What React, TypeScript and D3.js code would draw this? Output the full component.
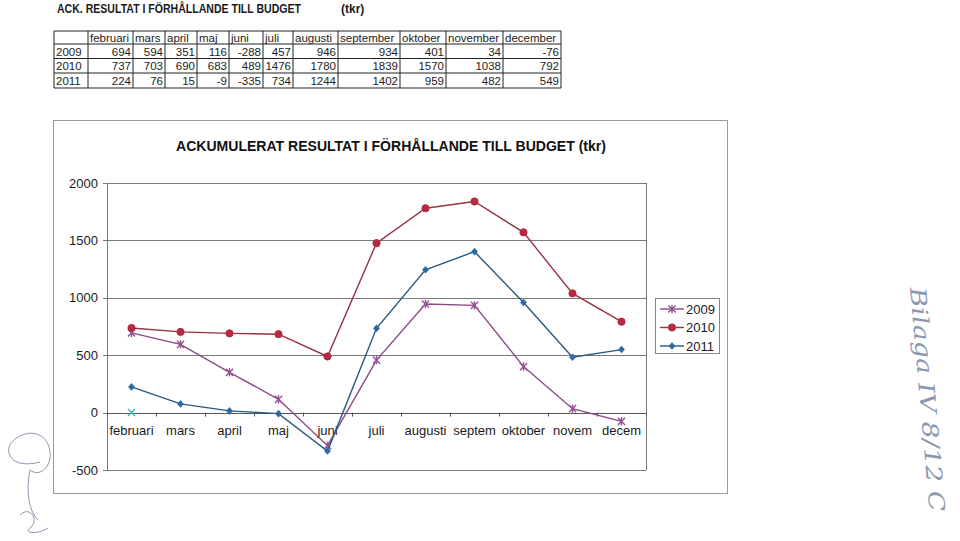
import React from "react";
import * as d3 from "d3";

const tableMonths = ["februari", "mars", "april", "maj", "juni", "juli", "augusti", "september", "oktober", "november", "december"];
const axisLabels = ["februari", "mars", "april", "maj", "juni", "juli", "augusti", "septem", "oktober", "novem", "decem"];
const years = ["2009", "2010", "2011"];
const values2009 = [694, 594, 351, 116, -288, 457, 946, 934, 401, 34, -76];
const values2010 = [737, 703, 690, 683, 489, 1476, 1780, 1839, 1570, 1038, 792];
const values2011 = [224, 76, 15, -9, -335, 734, 1244, 1402, 959, 482, 549];
const strayValues = [0];
const yTicks = [-500, 0, 500, 1000, 1500, 2000];

const colW = [34, 45, 32, 32, 32, 34, 30, 45, 62, 46, 57, 58];
const FONT = "'Liberation Sans', Arial, sans-serif";

const series = [
  { name: "2009", values: values2009, line: "#8a4a86", marker: "#9a4f96", shape: "star" },
  { name: "2010", values: values2010, line: "#963242", marker: "#b52a3e", shape: "circle" },
  { name: "2011", values: values2011, line: "#27597f", marker: "#2d6aa5", shape: "diamond" },
];

function Marker({ shape, x, y, color }: { shape: string; x: number; y: number; color: string }) {
  if (shape === "circle") return <circle cx={x} cy={y} r={3.6} fill={color} stroke={color} />;
  if (shape === "diamond")
    return <path d={`M${x},${y - 3.8}L${x + 3.4},${y}L${x},${y + 3.8}L${x - 3.4},${y}Z`} fill={color} />;
  if (shape === "x")
    return <path d={`M${x - 3.5},${y - 3.5}L${x + 3.5},${y + 3.5}M${x - 3.5},${y + 3.5}L${x + 3.5},${y - 3.5}`} stroke={color} strokeWidth={1.4} />;
  const s = 3.6;
  return (
    <path
      d={`M${x - s},${y - s}L${x + s},${y + s}M${x - s},${y + s}L${x + s},${y - s}M${x},${y - s - 0.6}L${x},${y + s + 0.6}`}
      stroke={color}
      strokeWidth={1.4}
    />
  );
}

export default function App() {
  const tX = 54, tY = 31;
  const rowH = [13, 14.5, 14.5, 15];
  const colX = [tX];
  colW.forEach((w) => colX.push(colX[colX.length - 1] + w));
  const rowY = [tY];
  rowH.forEach((h) => rowY.push(rowY[rowY.length - 1] + h));
  const tableRows = [values2009, values2010, values2011];

  const x = d3.scaleBand().domain(axisLabels).range([107, 646]);
  const y = d3.scaleLinear().domain([-500, 2000]).range([470, 183]);
  const cx = (i: number) => (x(axisLabels[i]) as number) + x.bandwidth() / 2;
  const lineGen = (vals: number[]) =>
    d3.line<number>().x((_, i) => cx(i)).y((v) => y(v))(vals) as string;

  return (
    <svg width={960} height={541} style={{ position: "absolute", left: 0, top: 0, background: "#fff" }} fontFamily={FONT}>
      <rect width={960} height={541} fill="#fff" />
      <text x={57} y={13} fontSize={12} fontWeight="bold" fill="#1a1a1a" textLength={244} lengthAdjust="spacingAndGlyphs">
        ACK. RESULTAT I FÖRHÅLLANDE TILL BUDGET
      </text>
      <text x={341} y={13} fontSize={12} fontWeight="bold" fill="#1a1a1a">(tkr)</text>

      <g stroke="#222" strokeWidth={1}>
        {rowY.map((ry, i) => (
          <line key={"h" + i} x1={colX[0]} x2={colX[colX.length - 1]} y1={ry} y2={ry} />
        ))}
        {colX.map((c, i) => (
          <line key={"v" + i} x1={c} x2={c} y1={rowY[0]} y2={rowY[rowY.length - 1]} />
        ))}
      </g>
      <g fontSize={11.5} fill="#222">
        {tableMonths.map((m, i) => (
          <text key={m} x={colX[i + 1] + 2} y={rowY[1] - 2.5}>{m}</text>
        ))}
        {years.map((yr, r) => (
          <g key={yr}>
            <text x={colX[0] + 2} y={rowY[r + 2] - 3}>{yr}</text>
            {tableRows[r].map((v, i) => (
              <text key={i} x={colX[i + 2] - 2} y={rowY[r + 2] - 3} textAnchor="end">{v}</text>
            ))}
          </g>
        ))}
      </g>

      <rect x={53.5} y={120.5} width={674} height={373} fill="none" stroke="#9a9a9a" strokeWidth={1} />
      <text x={391} y={151} fontSize={14} fontWeight="bold" textAnchor="middle" fill="#111" textLength={430} lengthAdjust="spacingAndGlyphs">
        ACKUMULERAT RESULTAT I FÖRHÅLLANDE TILL BUDGET (tkr)
      </text>

      <g stroke="#7a7a7a" strokeWidth={1}>
        {yTicks.map((t) => (
          <line key={t} x1={107} x2={646} y1={Math.round(y(t)) + 0.5} y2={Math.round(y(t)) + 0.5} />
        ))}
        <line x1={107.5} x2={107.5} y1={y(2000)} y2={y(-500)} />
        <line x1={646.5} x2={646.5} y1={y(2000)} y2={y(-500)} />
        {yTicks.map((t) => (
          <line key={"yt" + t} x1={103} x2={107} y1={Math.round(y(t)) + 0.5} y2={Math.round(y(t)) + 0.5} />
        ))}
      </g>
      <g stroke="#555" strokeWidth={1}>
        <line x1={107} x2={646} y1={Math.round(y(0)) + 0.5} y2={Math.round(y(0)) + 0.5} />
        {axisLabels.map((c) => (
          <line key={c} x1={(x(c) as number) + 0.5} x2={(x(c) as number) + 0.5} y1={y(0)} y2={y(0) + 4} />
        ))}
        <line x1={646.5} x2={646.5} y1={y(0)} y2={y(0) + 4} />
      </g>
      <g fontSize={13} fill="#1a1a1a">
        {yTicks.map((t) => (
          <text key={t} x={98} y={y(t) + 4.5} textAnchor="end">{t}</text>
        ))}
        {axisLabels.map((c, i) => (
          <text key={c} x={cx(i)} y={y(0) + 22} textAnchor="middle">{c}</text>
        ))}
      </g>

      {series.map((s) => (
        <g key={s.name}>
          <path d={lineGen(s.values)} fill="none" stroke={s.line} strokeWidth={1.4} />
          {s.values.map((v, i) => (
            <Marker key={i} shape={s.shape} x={cx(i)} y={y(v)} color={s.marker} />
          ))}
        </g>
      ))}
      {strayValues.map((v, i) => (
        <Marker key={"s" + i} shape="x" x={cx(i)} y={y(v)} color="#3fb3c4" />
      ))}

      <rect x={655.5} y={298.5} width={64} height={55} fill="#fff" stroke="#888" />
      {series.map((s, i) => {
        const ly = 309 + i * 18.5;
        return (
          <g key={s.name}>
            <line x1={660} x2={684} y1={ly} y2={ly} stroke={s.line} strokeWidth={1.4} />
            <Marker shape={s.shape} x={672} y={ly} color={s.marker} />
            <text x={686} y={ly + 4.5} fontSize={13} fill="#1a1a1a">{s.name}</text>
          </g>
        );
      })}

      <text
        transform="translate(910,288) rotate(85)"
        fontSize={22}
        fontStyle="italic"
        fontFamily="'DejaVu Serif', serif"
        fill="#8b98b0"
        textLength={225}
        lengthAdjust="spacingAndGlyphs"
      >
        Bilaga IV 8/12 C
      </text>
      <path
        d="M40,462 C10,470 2,450 14,440 C28,428 48,432 50,452 C52,466 40,478 30,470 M30,470 C26,490 28,510 38,520 M20,515 C30,505 40,520 30,528 C22,534 40,534 48,528"
        fill="none"
        stroke="#8d97ad"
        strokeWidth={1}
      />
    </svg>
  );
}
